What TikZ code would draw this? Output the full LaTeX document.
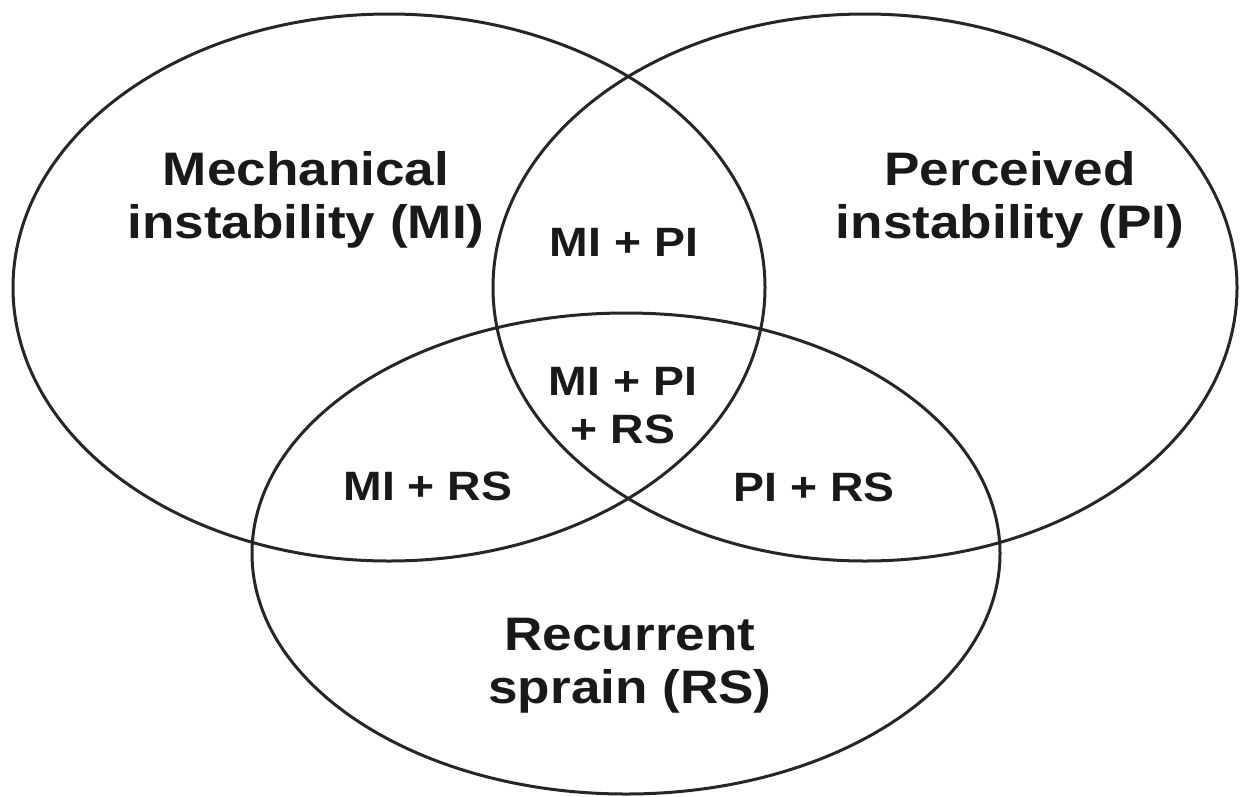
\documentclass[tikz,border=0pt]{standalone}
\usepackage{fontspec}
\newfontfamily\lbl{Liberation Sans}[FakeStretch=1.13]
\begin{document}
\begin{tikzpicture}[x=1pt,y=-1pt,
  setline/.style={draw=black!85,line width=3pt},
  biglabel/.style={font=\lbl\bfseries\fontsize{47}{53}\selectfont,text=black!90,align=center,anchor=base,inner sep=0pt},
  smalllabel/.style={font=\lbl\bfseries\fontsize{41}{48}\selectfont,text=black!90,align=center,anchor=base,inner sep=0pt}]
\useasboundingbox (0,0) rectangle (1242,796);
% sets
\draw[setline] (389,287.5) ellipse [x radius=376, y radius=273.5];
\draw[setline] (865,287.5) ellipse [x radius=372, y radius=273.5];
\draw[setline] (626,553.5) ellipse [x radius=374, y radius=240.5];
% labels (base anchor = baseline of last line)
\node[biglabel] (mi) at (306,238) {Mechanical\\instability (MI)};
\node[biglabel] (pi) at (1010,238) {Perceived\\instability (PI)};
\node[biglabel] (rs) at (630,703) {Recurrent\\sprain (RS)};
\node[smalllabel] (mipi) at (624,256) {MI + PI};
\node[smalllabel] (all) at (623,443) {MI + PI\\+ RS};
\node[smalllabel] (mirs) at (428,500) {MI + RS};
\node[smalllabel] (pirs) at (814,501) {PI + RS};
\end{tikzpicture}
\end{document}
